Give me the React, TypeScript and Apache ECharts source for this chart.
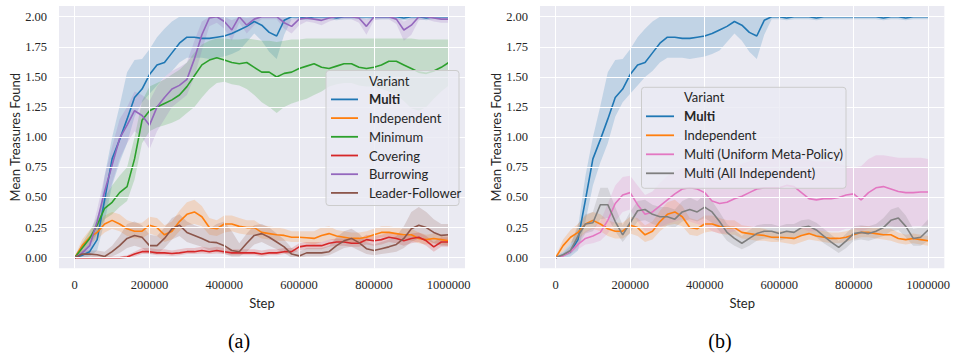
import React, { useEffect, useRef } from 'react';
import * as echarts from 'echarts';

// ---------- data ----------
const steps = [
  0, 20000, 40000, 60000, 80000, 100000, 120000, 140000, 160000, 180000,
  200000, 220000, 240000, 260000, 280000, 300000, 320000, 340000, 360000, 380000,
  400000, 420000, 440000, 460000, 480000, 500000, 520000, 540000, 560000, 580000,
  600000, 620000, 640000, 660000, 680000, 700000, 720000, 740000, 760000, 780000,
  800000, 820000, 840000, 860000, 880000, 900000, 920000, 940000, 960000, 980000, 1000000,
];
const xTicks = [0, 200000, 400000, 600000, 800000, 1000000];
const yTicks = [0, 0.25, 0.5, 0.75, 1.0, 1.25, 1.5, 1.75, 2.0];

const multiMean = [0, 0.02, 0.05, 0.15, 0.48, 0.82, 0.98, 1.15, 1.33, 1.40, 1.52, 1.60, 1.62, 1.70, 1.78, 1.83, 1.83, 1.82, 1.82, 1.83, 1.84, 1.86, 1.89, 1.92, 1.96, 1.93, 1.87, 1.84, 1.97, 2.0, 2.0, 1.99, 2.0, 2.0, 2.0, 1.99, 2.0, 2.0, 2.0, 2.0, 2.0, 2.0, 2.0, 2.0, 1.99, 2.0, 2.0, 1.99, 2.0, 2.0, 2.0];
const multiLo = [0, 0, 0.01, 0.06, 0.30, 0.60, 0.79, 0.95, 1.17, 1.29, 1.36, 1.43, 1.50, 1.55, 1.62, 1.66, 1.66, 1.66, 1.65, 1.66, 1.67, 1.69, 1.72, 1.79, 1.86, 1.80, 1.71, 1.65, 1.85, 1.98, 1.98, 1.97, 1.98, 1.98, 1.98, 1.97, 1.98, 1.98, 1.98, 1.98, 1.98, 1.98, 1.98, 1.98, 1.97, 1.98, 1.98, 1.97, 1.98, 1.98, 1.98];
const multiHi = [0.01, 0.05, 0.12, 0.25, 0.68, 1.00, 1.26, 1.54, 1.64, 1.65, 1.73, 1.83, 1.90, 1.96, 2.0, 2.0, 2.0, 2.0, 2.0, 2.0, 2.0, 2.0, 2.0, 2.0, 2.0, 2.0, 2.0, 2.0, 2.0, 2.0, 2.0, 2.0, 2.0, 2.0, 2.0, 2.0, 2.0, 2.0, 2.0, 2.0, 2.0, 2.0, 2.0, 2.0, 2.0, 2.0, 2.0, 2.0, 2.0, 2.0, 2.0];

const indepMean = [0, 0.10, 0.17, 0.21, 0.28, 0.31, 0.28, 0.24, 0.22, 0.22, 0.27, 0.25, 0.19, 0.22, 0.30, 0.36, 0.38, 0.34, 0.25, 0.24, 0.28, 0.28, 0.26, 0.25, 0.25, 0.21, 0.20, 0.19, 0.185, 0.17, 0.17, 0.165, 0.16, 0.185, 0.20, 0.18, 0.17, 0.16, 0.16, 0.17, 0.19, 0.21, 0.21, 0.20, 0.19, 0.19, 0.16, 0.15, 0.16, 0.15, 0.14];
const indepLo = [0, 0.05, 0.12, 0.15, 0.21, 0.24, 0.22, 0.18, 0.16, 0.16, 0.20, 0.18, 0.13, 0.15, 0.22, 0.27, 0.28, 0.26, 0.19, 0.18, 0.21, 0.22, 0.20, 0.19, 0.19, 0.16, 0.15, 0.14, 0.14, 0.13, 0.13, 0.12, 0.11, 0.13, 0.15, 0.14, 0.13, 0.12, 0.12, 0.13, 0.15, 0.17, 0.17, 0.16, 0.15, 0.14, 0.12, 0.11, 0.12, 0.11, 0.10];
const indepHi = [0.01, 0.15, 0.23, 0.28, 0.35, 0.38, 0.36, 0.31, 0.29, 0.29, 0.34, 0.33, 0.27, 0.30, 0.39, 0.46, 0.48, 0.43, 0.33, 0.31, 0.35, 0.35, 0.33, 0.31, 0.31, 0.27, 0.26, 0.25, 0.24, 0.22, 0.22, 0.22, 0.22, 0.25, 0.26, 0.23, 0.22, 0.21, 0.21, 0.22, 0.24, 0.26, 0.26, 0.25, 0.24, 0.24, 0.21, 0.19, 0.20, 0.19, 0.18];

const minMean = [0, 0.08, 0.16, 0.27, 0.41, 0.46, 0.54, 0.59, 0.82, 1.14, 1.22, 1.25, 1.28, 1.31, 1.35, 1.42, 1.51, 1.60, 1.64, 1.66, 1.64, 1.62, 1.61, 1.62, 1.58, 1.54, 1.54, 1.50, 1.53, 1.54, 1.57, 1.59, 1.61, 1.58, 1.57, 1.59, 1.61, 1.61, 1.58, 1.57, 1.58, 1.60, 1.63, 1.63, 1.60, 1.57, 1.54, 1.53, 1.55, 1.58, 1.62];
const minLo = [0, 0.05, 0.11, 0.20, 0.32, 0.36, 0.42, 0.47, 0.65, 0.95, 1.05, 1.08, 1.10, 1.12, 1.15, 1.20, 1.25, 1.33, 1.40, 1.45, 1.46, 1.44, 1.43, 1.40, 1.35, 1.29, 1.25, 1.20, 1.25, 1.28, 1.30, 1.32, 1.35, 1.38, 1.42, 1.44, 1.45, 1.45, 1.43, 1.42, 1.42, 1.40, 1.38, 1.35, 1.30, 1.24, 1.22, 1.25, 1.32, 1.38, 1.43];
const minHi = [0.01, 0.12, 0.22, 0.34, 0.50, 0.60, 0.68, 0.75, 1.00, 1.30, 1.42, 1.45, 1.48, 1.52, 1.56, 1.62, 1.70, 1.77, 1.80, 1.82, 1.82, 1.81, 1.81, 1.82, 1.81, 1.80, 1.80, 1.79, 1.80, 1.81, 1.81, 1.82, 1.82, 1.82, 1.82, 1.82, 1.82, 1.82, 1.82, 1.82, 1.82, 1.82, 1.82, 1.82, 1.82, 1.82, 1.81, 1.81, 1.81, 1.81, 1.81];

const covMean = [0, 0, 0, 0, 0, 0, 0, 0.005, 0.03, 0.05, 0.05, 0.04, 0.04, 0.035, 0.04, 0.05, 0.05, 0.06, 0.05, 0.06, 0.05, 0.04, 0.04, 0.04, 0.04, 0.03, 0.04, 0.04, 0.05, 0.05, 0.09, 0.10, 0.10, 0.10, 0.12, 0.13, 0.13, 0.12, 0.12, 0.15, 0.14, 0.15, 0.17, 0.16, 0.14, 0.16, 0.17, 0.14, 0.09, 0.13, 0.13];
const covLo = [0, 0, 0, 0, 0, 0, 0, 0, 0.01, 0.03, 0.03, 0.02, 0.02, 0.015, 0.02, 0.03, 0.03, 0.035, 0.03, 0.035, 0.03, 0.02, 0.02, 0.02, 0.02, 0.01, 0.02, 0.02, 0.03, 0.03, 0.06, 0.07, 0.07, 0.07, 0.09, 0.10, 0.10, 0.09, 0.09, 0.11, 0.10, 0.11, 0.13, 0.12, 0.10, 0.12, 0.13, 0.10, 0.05, 0.09, 0.09];
const covHi = [0.005, 0.01, 0.01, 0.01, 0.01, 0.01, 0.01, 0.02, 0.05, 0.08, 0.08, 0.07, 0.07, 0.06, 0.07, 0.08, 0.08, 0.09, 0.08, 0.09, 0.08, 0.07, 0.07, 0.07, 0.07, 0.06, 0.07, 0.07, 0.08, 0.08, 0.12, 0.13, 0.13, 0.13, 0.15, 0.16, 0.16, 0.15, 0.15, 0.19, 0.18, 0.19, 0.21, 0.20, 0.18, 0.20, 0.21, 0.18, 0.13, 0.17, 0.17];

const burMean = [0, 0.04, 0.10, 0.30, 0.55, 0.77, 0.99, 1.10, 1.22, 1.18, 1.10, 1.25, 1.33, 1.40, 1.43, 1.48, 1.65, 1.85, 1.99, 2.0, 1.96, 1.89, 2.0, 1.93, 1.98, 2.0, 2.0, 2.0, 1.95, 1.92, 1.98, 1.99, 1.98, 1.97, 1.99, 2.0, 2.0, 2.0, 1.99, 1.92, 2.0, 2.0, 2.0, 1.98, 1.89, 1.93, 2.0, 2.0, 1.99, 1.98, 1.98];
const burLo = [0, 0.01, 0.05, 0.20, 0.42, 0.62, 0.82, 0.95, 1.05, 1.00, 0.90, 1.05, 1.15, 1.25, 1.30, 1.35, 1.50, 1.72, 1.92, 1.95, 1.90, 1.80, 1.95, 1.86, 1.93, 1.98, 1.98, 1.98, 1.90, 1.86, 1.93, 1.96, 1.95, 1.93, 1.96, 1.98, 1.98, 1.98, 1.95, 1.85, 1.97, 1.98, 1.98, 1.94, 1.80, 1.85, 1.97, 1.98, 1.96, 1.95, 1.95];
const burHi = [0.01, 0.08, 0.16, 0.40, 0.68, 0.92, 1.15, 1.25, 1.38, 1.35, 1.30, 1.42, 1.50, 1.55, 1.58, 1.62, 1.80, 1.96, 2.0, 2.0, 2.0, 1.97, 2.0, 1.99, 2.0, 2.0, 2.0, 2.0, 2.0, 1.98, 2.0, 2.0, 2.0, 2.0, 2.0, 2.0, 2.0, 2.0, 2.0, 1.98, 2.0, 2.0, 2.0, 2.0, 1.96, 1.99, 2.0, 2.0, 2.0, 2.0, 2.0];

const lfMean = [0, 0.03, 0.03, 0.025, 0.01, 0.05, 0.10, 0.16, 0.185, 0.17, 0.10, 0.10, 0.16, 0.24, 0.27, 0.21, 0.185, 0.16, 0.13, 0.125, 0.10, 0.06, 0.05, 0.12, 0.185, 0.20, 0.17, 0.13, 0.09, 0.03, 0.015, 0.04, 0.04, 0.04, 0.05, 0.10, 0.14, 0.16, 0.125, 0.075, 0.06, 0.075, 0.09, 0.11, 0.16, 0.24, 0.27, 0.25, 0.21, 0.185, 0.19];
const lfLo = [0, 0.01, 0.01, 0, 0, 0.01, 0.04, 0.08, 0.10, 0.08, 0.03, 0.03, 0.08, 0.15, 0.18, 0.13, 0.11, 0.09, 0.06, 0.05, 0.03, 0.01, 0.01, 0.05, 0.11, 0.13, 0.10, 0.07, 0.04, 0, 0, 0.01, 0.01, 0.01, 0.02, 0.05, 0.08, 0.09, 0.06, 0.03, 0.02, 0.03, 0.04, 0.05, 0.08, 0.13, 0.16, 0.15, 0.12, 0.10, 0.10];
const lfHi = [0.01, 0.06, 0.06, 0.06, 0.05, 0.10, 0.18, 0.28, 0.30, 0.27, 0.19, 0.18, 0.25, 0.33, 0.36, 0.30, 0.27, 0.25, 0.24, 0.28, 0.30, 0.22, 0.12, 0.20, 0.27, 0.28, 0.25, 0.20, 0.15, 0.08, 0.05, 0.08, 0.08, 0.08, 0.10, 0.17, 0.22, 0.24, 0.20, 0.13, 0.11, 0.13, 0.15, 0.18, 0.26, 0.38, 0.42, 0.38, 0.32, 0.28, 0.28];

const uniMean = [0, 0.015, 0.05, 0.11, 0.16, 0.18, 0.21, 0.31, 0.45, 0.52, 0.54, 0.44, 0.36, 0.38, 0.43, 0.48, 0.53, 0.57, 0.58, 0.57, 0.54, 0.47, 0.45, 0.46, 0.49, 0.51, 0.54, 0.57, 0.58, 0.58, 0.58, 0.60, 0.59, 0.54, 0.49, 0.48, 0.49, 0.49, 0.50, 0.52, 0.53, 0.48, 0.54, 0.58, 0.59, 0.57, 0.55, 0.54, 0.54, 0.545, 0.545];
const uniLo = [0, 0.005, 0.03, 0.07, 0.11, 0.12, 0.14, 0.20, 0.30, 0.38, 0.40, 0.30, 0.22, 0.22, 0.25, 0.28, 0.30, 0.32, 0.30, 0.28, 0.26, 0.22, 0.20, 0.20, 0.22, 0.22, 0.24, 0.25, 0.25, 0.25, 0.25, 0.25, 0.25, 0.24, 0.22, 0.22, 0.22, 0.22, 0.22, 0.24, 0.24, 0.22, 0.24, 0.25, 0.27, 0.26, 0.25, 0.25, 0.26, 0.26, 0.27];
const uniHi = [0.01, 0.03, 0.08, 0.16, 0.22, 0.25, 0.30, 0.45, 0.60, 0.67, 0.68, 0.60, 0.52, 0.55, 0.62, 0.68, 0.72, 0.74, 0.76, 0.76, 0.74, 0.72, 0.70, 0.72, 0.75, 0.78, 0.80, 0.82, 0.84, 0.84, 0.84, 0.85, 0.85, 0.84, 0.81, 0.80, 0.80, 0.80, 0.78, 0.76, 0.75, 0.76, 0.82, 0.85, 0.85, 0.84, 0.83, 0.83, 0.83, 0.83, 0.82];

const allMean = [0, 0.025, 0.06, 0.18, 0.28, 0.29, 0.44, 0.44, 0.30, 0.19, 0.29, 0.39, 0.40, 0.36, 0.34, 0.34, 0.32, 0.38, 0.40, 0.38, 0.42, 0.38, 0.30, 0.21, 0.16, 0.12, 0.16, 0.20, 0.22, 0.22, 0.20, 0.22, 0.21, 0.25, 0.26, 0.23, 0.18, 0.13, 0.085, 0.14, 0.20, 0.21, 0.20, 0.22, 0.25, 0.31, 0.33, 0.26, 0.16, 0.17, 0.23];
const allLo = [0, 0.01, 0.03, 0.10, 0.20, 0.22, 0.32, 0.33, 0.22, 0.13, 0.21, 0.30, 0.31, 0.28, 0.26, 0.26, 0.25, 0.30, 0.32, 0.30, 0.33, 0.29, 0.22, 0.14, 0.10, 0.07, 0.10, 0.14, 0.16, 0.16, 0.14, 0.16, 0.15, 0.19, 0.20, 0.17, 0.12, 0.08, 0.04, 0.08, 0.14, 0.15, 0.14, 0.16, 0.18, 0.22, 0.23, 0.17, 0.10, 0.10, 0.14];
const allHi = [0.01, 0.04, 0.10, 0.28, 0.36, 0.38, 0.58, 0.58, 0.42, 0.27, 0.38, 0.47, 0.48, 0.44, 0.42, 0.42, 0.40, 0.47, 0.50, 0.47, 0.52, 0.47, 0.38, 0.28, 0.23, 0.18, 0.23, 0.27, 0.28, 0.28, 0.26, 0.28, 0.28, 0.31, 0.32, 0.29, 0.24, 0.19, 0.14, 0.20, 0.26, 0.27, 0.26, 0.28, 0.33, 0.40, 0.42, 0.35, 0.24, 0.25, 0.32];

// ---------- styling ----------
const SANS = 'Lato, "Noto Sans", sans-serif';
const SERIF = '"Liberation Serif", "DejaVu Serif", serif';
const TXT = '#262626';
const BG = '#EAEAF2';

type Variant = { name: string; color: string; mean: number[]; lo: number[]; hi: number[]; bold?: boolean };

const panelA: Variant[] = [
  { name: 'Multi', color: '#1f77b4', mean: multiMean, lo: multiLo, hi: multiHi, bold: true },
  { name: 'Independent', color: '#ff7f0e', mean: indepMean, lo: indepLo, hi: indepHi },
  { name: 'Minimum', color: '#2ca02c', mean: minMean, lo: minLo, hi: minHi },
  { name: 'Covering', color: '#d62728', mean: covMean, lo: covLo, hi: covHi },
  { name: 'Burrowing', color: '#9467bd', mean: burMean, lo: burLo, hi: burHi },
  { name: 'Leader-Follower', color: '#8c564b', mean: lfMean, lo: lfLo, hi: lfHi },
];
const panelB: Variant[] = [
  { name: 'Multi', color: '#1f77b4', mean: multiMean, lo: multiLo, hi: multiHi, bold: true },
  { name: 'Independent', color: '#ff7f0e', mean: indepMean, lo: indepLo, hi: indepHi },
  { name: 'Multi (Uniform Meta-Policy)', color: '#e377c2', mean: uniMean, lo: uniLo, hi: uniHi },
  { name: 'Multi (All Independent)', color: '#7f7f7f', mean: allMean, lo: allLo, hi: allHi },
];

function bandSeries(v: Variant, g: number) {
  return {
    type: 'custom', xAxisIndex: g, yAxisIndex: g, silent: true, z: 2, clip: true,
    data: steps.map((s, i) => [s, v.lo[i], v.hi[i]]),
    encode: { x: 0, y: [1, 2] },
    renderItem: (params: any, api: any) => {
      if (params.dataIndex !== 0) return null;
      const pts: number[][] = [];
      for (let i = 0; i < steps.length; i++) pts.push(api.coord([steps[i], v.hi[i]]));
      for (let i = steps.length - 1; i >= 0; i--) pts.push(api.coord([steps[i], v.lo[i]]));
      return {
        type: 'polygon',
        shape: { points: pts },
        style: { fill: v.color, opacity: 0.2 },
      };
    },
  };
}

function buildSeries(vars: Variant[], g: number) {
  const out: any[] = [];
  out.push({
    type: 'line', xAxisIndex: g, yAxisIndex: g, data: [[0, 0]], symbol: 'none',
    lineStyle: { width: 0, opacity: 0 }, silent: true, z: 1,
    markLine: {
      silent: true, symbol: ['none', 'none'], label: { show: false },
      lineStyle: { color: '#ffffff', width: 1, type: 'solid' },
      emphasis: { disabled: true },
      data: [...xTicks.map((v) => ({ xAxis: v })), ...yTicks.map((v) => ({ yAxis: v }))],
    },
  });
  vars.forEach((v) => out.push(bandSeries(v, g)));
  vars.forEach((v) => {
    out.push({
      type: 'line', name: v.name, xAxisIndex: g, yAxisIndex: g, symbol: 'none', silent: true, z: 3,
      lineStyle: { color: v.color, width: 1.6 },
      data: steps.map((s, i) => [s, v.mean[i]]),
    });
  });
  return out;
}

type LegendLayout = { x: number; y: number; w: number; h: number; titleY: number; gap: number; lx1: number; lx2: number; tx: number };

function legendGraphic(vars: Variant[], L: LegendLayout) {
  const els: any[] = [
    {
      type: 'rect', z: 100, shape: { x: L.x, y: L.y, width: L.w, height: L.h, r: 3 },
      style: { fill: 'rgba(234,234,242,0.8)', stroke: '#cccccc', lineWidth: 1 },
    },
    {
      type: 'text', z: 101, x: L.tx, y: L.titleY,
      style: { text: 'Variant', fill: TXT, fontSize: 13, fontFamily: SANS, verticalAlign: 'middle', align: 'left' },
    },
  ];
  vars.forEach((v, i) => {
    const y = L.titleY + L.gap * (i + 1);
    els.push({
      type: 'line', z: 101, shape: { x1: L.lx1, y1: y, x2: L.lx2, y2: y },
      style: { stroke: v.color, lineWidth: 1.8 },
    });
    els.push({
      type: 'text', z: 101, x: L.tx, y,
      style: {
        text: v.name, fill: TXT, fontSize: 13, fontFamily: SANS,
        fontWeight: v.bold ? 'bold' : 'normal', verticalAlign: 'middle', align: 'left',
      },
    });
  });
  return els;
}

function makeXAxis(g: number) {
  return {
    type: 'value', gridIndex: g, min: -42000, max: 1043500,
    axisLine: { show: false }, axisTick: { show: false }, splitLine: { show: false },
    axisLabel: {
      customValues: xTicks, formatter: (v: number) => String(v),
      color: TXT, fontFamily: SERIF, fontSize: 12.5, margin: 10,
    },
    name: 'Step', nameLocation: 'middle', nameGap: 25,
    nameTextStyle: { fontFamily: SANS, fontSize: 13, color: TXT },
  };
}
function makeYAxis(g: number) {
  return {
    type: 'value', gridIndex: g, min: -0.088, max: 2.089,
    axisLine: { show: false }, axisTick: { show: false }, splitLine: { show: false },
    axisLabel: {
      customValues: yTicks, formatter: (v: number) => v.toFixed(2),
      color: TXT, fontFamily: SERIF, fontSize: 12.5, margin: 12,
    },
    name: 'Mean Treasures Found', nameLocation: 'middle', nameGap: 38,
    nameTextStyle: { fontFamily: SANS, fontSize: 13, color: TXT },
  };
}

export default function App() {
  const ref = useRef<HTMLDivElement>(null);
  useEffect(() => {
    if (!ref.current) return;
    const chart = echarts.init(ref.current, undefined, { renderer: 'svg' });
    chart.setOption({
      animation: false,
      backgroundColor: '#ffffff',
      grid: [
        { left: 59, top: 6, width: 406, height: 262.3, show: true, backgroundColor: BG, borderWidth: 0 },
        { left: 540, top: 6, width: 407, height: 262.3, show: true, backgroundColor: BG, borderWidth: 0 },
      ],
      xAxis: [makeXAxis(0), makeXAxis(1)],
      yAxis: [makeYAxis(0), makeYAxis(1)],
      series: [...buildSeries(panelA, 0), ...buildSeries(panelB, 1)],
      graphic: [
        ...legendGraphic(panelA, { x: 326, y: 70.5, w: 133, h: 135, titleY: 80.7, gap: 18.7, lx1: 331, lx2: 358, tx: 369 }),
        ...legendGraphic(panelB, { x: 641.5, y: 87.3, w: 204.5, h: 101, titleY: 97.3, gap: 19, lx1: 646, lx2: 674, tx: 684 }),
        { type: 'text', x: 239, y: 341, style: { text: '(a)', fill: '#000', fontSize: 20, fontFamily: SERIF, align: 'center', verticalAlign: 'middle' } },
        { type: 'text', x: 720, y: 341, style: { text: '(b)', fill: '#000', fontSize: 20, fontFamily: SERIF, align: 'center', verticalAlign: 'middle' } },
      ],
    });
    return () => chart.dispose();
  }, []);
  return <div ref={ref} style={{ position: 'absolute', left: 0, top: 0, width: 953, height: 354 }} />;
}
